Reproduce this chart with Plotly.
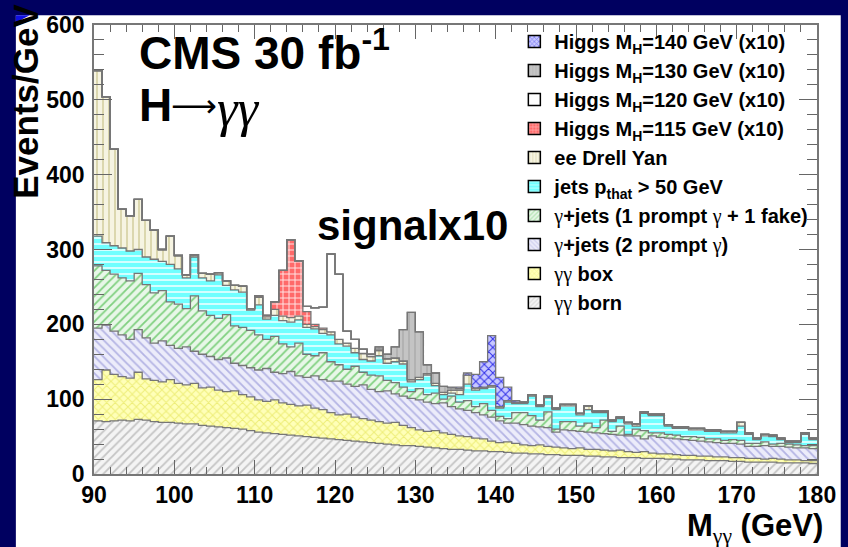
import plotly.graph_objects as go

# ---------------- data (Events/GeV, 1 GeV bins from 90 to 180) ----------------
bin_edges = list(range(90, 181))

gg_born = [71,70,71,72,71,73,72,70,69,69, 68,67,67,65,64,63,62,61,60,58,
           56,55,54,53,52,51,50,49,48,47, 46,45,44,43,42,41,40,39,38,38,
           37,36,35,34,33,33,32,31,31,30, 30,29,28,28,27,27,26,26,25,25,
           25,24,24,23,23,22,22,22,21,21, 21,20,20,19,19,19,18,18,18,17,
           17,16,16,16,16,15,15,15,15,14]
gg_box = [55,69,62,58,57,63,55,55,54,57, 53,52,54,50,52,49,48,50,46,45,
          43,42,45,42,41,40,42,39,38,35, 33,35,32,31,30,29,28,30,27,24,
          22,21,23,21,20,18,18,17,16,14, 12,14,13,11,11,12,11,10,10,9,
          10,9,9,9,8,10,8,7,9,7, 6,7,6,6,6,5,6,5,5,5,
          5,5,5,4,5,5,4,4,3,4]
gjets_2prompt = [69,60,58,56,52,57,55,50,55,46, 47,51,43,45,41,41,45,37,39,39,
                 40,44,37,39,44,40,37,43,40,42, 45,40,41,45,41,40,43,38,39,39,
                 40,39,36,40,37,36,35,34,32,32, 29,25,27,27,26,24,25,20,24,24,
                 22,23,22,22,22,20,21,22,17,23, 22,21,21,21,20,20,19,19,18,19,
                 18,16,16,18,16,17,17,16,17,16]
gjets_1fake = [83,73,76,76,78,75,71,67,67,58, 59,51,74,58,55,55,58,50,51,50,
               47,39,48,40,33,44,31,27,36,26, 22,20,27,17,19,21,14,15,12,9,
               15,10,14,5,14,9,13,8,15,9, 6,6,14,16,14,9,21,4,11,12,
               7,12,7,18,4,12,2,9,11,4, 6,5,5,4,5,5,4,5,4,5,
               5,4,4,5,3,4,4,4,3,4]
jets_pthat50 = [40,37,38,40,40,32,37,45,39,50, 47,41,52,44,46,58,39,48,47,27,
                40,27,28,31,33,31,36,36,26,36, 28,31,18,17,19,27,23,28,31,13,
                12,26,10,6,4,10,22,22,20,31, 11,22,12,12,26,18,19,26,21,21,
                15,18,20,10,13,10,14,4,23,23, 23,11,9,11,9,10,10,10,10,9,
                19,12,5,8,10,5,2,3,15,8]
ee_drell_yan = [221,195,129,52,47,67,49,39,16,38, 18,4,3,6,9,3,6,6,8,2,
                10,3,8,6,6,5,4,3,5,4, 6,4,6,8,6,7,6,5,4,3,
                3,2,3,3,4,6,12,3,2,2, 2,2,2,2,2,2,2,2,2,2,
                2,5,2,2,2,2,2,3,2,2, 2,2,2,2,2,2,2,2,2,2,
                5,2,2,2,2,2,2,2,2,2]
# signal x10 (first bin in GeV, then bin contents)
h115_start, h115_vals = 110, [2,2,10,61,104,74,17,3,2]
h120_start, h120_vals = 116, [7,22,28,104,87,16,12,6,3,2]
h130_start, h130_vals = 125, [3,6,15,42,90,61,12,14,8,3,2]
h140_start, h140_vals = 134, [1,2,3,18,34,67,39,18,2]

x_ticks = [90,100,110,120,130,140,150,160,170,180]
y_ticks = [0,100,200,300,400,500,600]


def full(start, vals):
    arr = [0]*90
    for k, v in enumerate(vals):
        arr[start-90+k] = v
    return arr

SERIF = "font-family:'Liberation Serif',serif;font-weight:normal"
g = f"<span style=\"{SERIF}\">γ</span>"
gg = f"<span style=\"{SERIF}\">γγ</span>"

series = [
    # name, values, bg, fg, shape
    (f"{gg} born", gg_born, "#f4f4f4", "#c4c4c4", "/"),
    (f"{gg} box", gg_box, "#ffffb8", "#eeee78", "x"),
    (f"{g}+jets (2 prompt {g})", gjets_2prompt, "#ececfa", "#b4b4e4", "\\"),
    (f"{g}+jets (1 prompt {g} + 1 fake)", gjets_1fake, "#e8f7e8", "#80d080", "/"),
    ("jets p<sub>that</sub> &gt; 50 GeV", jets_pthat50, "#70ffff", "#e0ffff", "-"),
    ("ee Drell Yan", ee_drell_yan, "#f6f4e2", "#d8d4a8", "|"),
    ("Higgs M<sub>H</sub>=115 GeV (x10)", full(h115_start, h115_vals), "#ff6a6a", "#ffe4e4", "+"),
    ("Higgs M<sub>H</sub>=120 GeV (x10)", full(h120_start, h120_vals), "#ffffff", "#ffffff", ""),
    ("Higgs M<sub>H</sub>=130 GeV (x10)", full(h130_start, h130_vals), "#c4c4c4", "#b0b0b0", "|"),
    ("Higgs M<sub>H</sub>=140 GeV (x10)", full(h140_start, h140_vals), "#c8c8ff", "#3030e8", "x"),
]

fig = go.Figure()
for name, vals, bg, fg, shp in series:
    yv = list(vals) + [vals[-1]]
    pat = dict(shape=shp, bgcolor=bg, fgcolor=fg, size=6, solidity=0.3, fillmode="replace")
    fig.add_trace(go.Scatter(
        x=bin_edges, y=yv, mode="lines", stackgroup="stack",
        line=dict(shape="hv", color="#767676", width=1.3),
        fillcolor=bg, fillpattern=pat, showlegend=False, hoverinfo="skip"))

# legend entries (top to bottom as in the reference)
for name, vals, bg, fg, shp in reversed(series):
    fig.add_trace(go.Bar(
        x=[None], y=[None], name=name,
        marker=dict(color=bg, line=dict(color="#000000", width=1.5),
                    pattern=dict(shape=shp, bgcolor=bg, fgcolor=fg, size=4, solidity=0.4)),
        showlegend=True))

L, R, T, B = 94, 23, 19, 73
W, H = 848, 547
PW, PH = W - L - R, H - T - B
px = lambda v: (v - L) / PW
py = lambda v: (H - B - v) / PH

FONT = "Liberation Sans, Arial, sans-serif"

annotations = [
    dict(text="<b>CMS 30 fb<sup>-1</sup></b>", x=px(137), y=py(44), xanchor="left", yanchor="middle",
         font=dict(size=46, color="black", family=FONT)),
    dict(text="<b>H</b>", x=px(137), y=py(100), xanchor="left", yanchor="middle",
         font=dict(size=46, color="black", family=FONT)),
    dict(text="⟶", x=px(170), y=py(101), xanchor="left", yanchor="middle",
         font=dict(size=32, color="black", family="DejaVu Sans")),
    dict(text="<i>γγ</i>", x=px(216), y=py(104), xanchor="left", yanchor="middle",
         font=dict(size=52, color="black", family="Liberation Serif")),
    dict(text="<b>signalx10</b>", x=px(317), y=py(222), xanchor="left", yanchor="middle",
         font=dict(size=42, color="black", family=FONT)),
    dict(text="<b>Events/GeV</b>", x=px(25), y=py(96), xanchor="center", yanchor="middle",
         textangle=-90, font=dict(size=35, color="black", family=FONT)),
    dict(text=f"<b>M<sub>{gg}</sub> (GeV)</b>", x=px(833), y=py(529), xanchor="right", yanchor="middle",
         font=dict(size=31, color="black", family=FONT)),
]
for a in annotations:
    a.update(xref="paper", yref="paper", showarrow=False)

fig.update_layout(
    width=W, height=H,
    margin=dict(l=L, r=R, t=T, b=B, pad=0),
    paper_bgcolor="#000060",
    plot_bgcolor="white",
    font=dict(family=FONT, color="black"),
    barmode="overlay",
    annotations=annotations,
    shapes=[
        dict(type="rect", xref="paper", yref="paper", layer="below",
             x0=px(15), x1=px(849), y0=py(560), y1=py(9),
             fillcolor="white", line=dict(width=0)),
        dict(type="path", xref="paper", yref="paper", layer="below",
             path=f"M {px(15)},{py(9)} L {px(29)},{py(9)} Q {px(22)},{py(12)} {px(15)},{py(18)} Z",
             fillcolor="#1010e0", line=dict(width=0)),
    ],
    legend=dict(x=px(519), y=py(16), xanchor="left", yanchor="top",
                bgcolor="rgba(0,0,0,0)", borderwidth=0, maxheight=520,
                font=dict(size=20, color="black", family=FONT, weight="bold"),
                traceorder="normal", tracegroupgap=0, itemwidth=30),
    xaxis=dict(range=[90, 180], tickvals=x_ticks, ticks="inside", ticklen=14, tickwidth=1.2,
               tickcolor="#666", showline=True, linecolor="#777", linewidth=1.5,
               mirror="allticks", showgrid=False, zeroline=False, ticklabelstandoff=0,
               tickfont=dict(size=23, color="black", family=FONT, weight="bold"),
               minor=dict(dtick=2, ticks="inside", ticklen=7, tickcolor="#666", tickwidth=1.1)),
    yaxis=dict(range=[0, 600], tickvals=y_ticks, ticks="inside", ticklen=18, tickwidth=1.2,
               tickcolor="#666", showline=True, linecolor="#777", linewidth=1.5,
               mirror="allticks", showgrid=False, zeroline=False, ticklabelstandoff=3,
               tickfont=dict(size=23, color="black", family=FONT, weight="bold"),
               minor=dict(dtick=20, ticks="inside", ticklen=10, tickcolor="#666", tickwidth=1.1)),
)

fig.write_html("out.html",
               config={"displayModeBar": False},
               post_script="document.body.style.margin='0';document.body.style.overflow='hidden';"
                           "document.body.style.background='#000060';")
